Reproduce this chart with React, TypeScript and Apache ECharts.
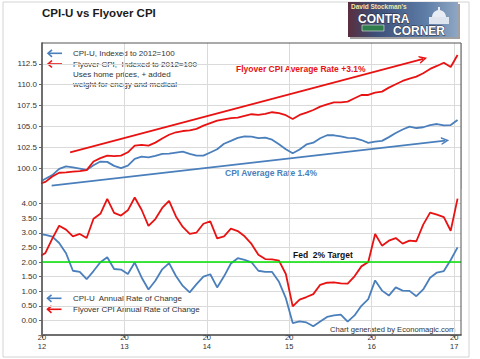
import React, { useEffect, useRef } from "react";
import * as echarts from "echarts";

const months = [
  "2011-12",
  "2012-01","2012-02","2012-03","2012-04","2012-05","2012-06","2012-07","2012-08","2012-09","2012-10","2012-11","2012-12",
  "2013-01","2013-02","2013-03","2013-04","2013-05","2013-06","2013-07","2013-08","2013-09","2013-10","2013-11","2013-12",
  "2014-01","2014-02","2014-03","2014-04","2014-05","2014-06","2014-07","2014-08","2014-09","2014-10","2014-11","2014-12",
  "2015-01","2015-02","2015-03","2015-04","2015-05","2015-06","2015-07","2015-08","2015-09","2015-10","2015-11","2015-12",
  "2016-01","2016-02","2016-03","2016-04","2016-05","2016-06","2016-07","2016-08","2016-09","2016-10","2016-11","2016-12",
  "2017-01",
];

const cpiIndex = [
  98.29,
  98.72, 99.16, 99.91, 100.21, 100.10, 99.95, 99.79, 100.34, 100.79, 100.75, 100.27, 100.00,
  100.30, 101.12, 101.38, 101.28, 101.46, 101.70, 101.74, 101.87, 101.98, 101.72, 101.51, 101.50,
  101.88, 102.26, 102.92, 103.26, 103.62, 103.81, 103.77, 103.60, 103.67, 103.41, 102.86, 102.27,
  101.79, 102.23, 102.84, 103.05, 103.58, 103.94, 103.94, 103.80, 103.64, 103.59, 103.37, 103.02,
  103.19, 103.27, 103.72, 104.21, 104.63, 104.98, 104.81, 104.90, 105.15, 105.29, 105.12, 105.16,
  105.77,
];

const flyoverIndex = [
  98.1,
  98.35, 99.0, 99.45, 99.5, 99.58, 99.65, 99.76, 100.8, 101.2, 101.5, 101.43, 101.5,
  101.9, 102.7, 102.79, 102.7, 103.06, 103.55, 104.0, 104.3, 104.45, 104.52, 104.7, 105.1,
  105.4, 105.7, 105.85, 106.0, 106.05, 106.26, 106.46, 106.38, 106.5, 106.7, 106.6, 106.35,
  105.9, 106.38, 106.65, 106.97, 107.37, 107.65, 107.89, 107.89, 107.97, 108.37, 108.77, 108.77,
  109.05, 109.17, 109.65, 110.05, 110.45, 110.73, 110.97, 111.37, 111.89, 112.25, 112.64, 112.13,
  113.57,
];

const cpiRate = [
  2.96,
  2.93, 2.87, 2.65, 2.30, 1.70, 1.66, 1.41, 1.69, 1.99, 2.16, 1.76, 1.74,
  1.59, 1.98, 1.47, 1.06, 1.36, 1.75, 1.96, 1.52, 1.18, 0.96, 1.24, 1.50,
  1.58, 1.13, 1.51, 1.95, 2.13, 2.07, 1.99, 1.70, 1.66, 1.66, 1.32, 0.76,
  -0.09, -0.03, -0.07, -0.20, -0.04, 0.12, 0.17, 0.20, -0.04, 0.17, 0.50, 0.73,
  1.37, 1.02, 0.85, 1.13, 1.02, 1.01, 0.83, 1.06, 1.46, 1.64, 1.69, 2.07,
  2.50,
];

const flyoverRate = [
  2.17,
  2.31, 2.8, 3.24, 3.11, 2.88, 2.96, 2.82, 3.48, 3.65, 4.16, 3.68, 3.59,
  3.77, 4.21, 3.79, 3.24, 3.47, 3.85, 4.09, 3.56, 3.20, 2.96, 3.01, 3.31,
  3.39, 2.81, 2.88, 3.14, 3.06, 2.88, 2.62, 2.25, 2.10, 2.09, 2.05, 1.59,
  0.48, 0.71, 0.80, 0.90, 1.22, 1.29, 1.30, 1.27, 1.26, 1.51, 1.85, 2.00,
  2.96, 2.56, 2.73, 2.82, 2.63, 2.73, 2.71, 3.28, 3.69, 3.62, 3.54, 3.07,
  4.17,
];

const yearTicks = [0, 12, 24, 36, 48, 60];
const yearLabels = ["20\n12", "20\n13", "20\n14", "20\n15", "20\n16", "20\n17"];
const fedTarget = 2;
const flyoverTrend = [[4.1, 101.9], [55.5, 113.1]];
const cpiTrend = [[1.4, 97.9], [58.7, 103.3]];

const BLUE = "#4a7fbc";
const RED = "#e81212";
const FONT = '"Liberation Sans", Arial, sans-serif';
const CHEVRON = "path://M0,10 L5,0 L10,10 L8,10 L5,4 L2,10 Z";

function monthPos(label: string) {
  const [y, m] = label.split("-").map(Number);
  return (y - 2012) * 12 + (m - 1) + 0.5;
}

function pts(values: number[]) {
  return months.map((m, i) => [monthPos(m), values[i]]);
}

function legendArrow(x: number, y: number, color: string) {
  return {
    type: "group",
    silent: true,
    children: [
      { type: "line", shape: { x1: x, y1: y, x2: x + 14, y2: y }, style: { stroke: color, lineWidth: 1.6 } },
      { type: "polyline", shape: { points: [[x + 4, y - 3.5], [x, y], [x + 4, y + 3.5]] }, style: { stroke: color, lineWidth: 1.6, fill: null } },
    ],
  };
}

function txt(x: number, y: number, text: string, size: number, color: string, bold = false, align = "left", extra: any = {}) {
  return {
    type: "text",
    x,
    y,
    silent: true,
    style: {
      text,
      fill: color,
      fontSize: size,
      fontWeight: bold ? "bold" : "normal",
      fontFamily: FONT,
      align,
      verticalAlign: "middle",
      textAlign: align,
      textVerticalAlign: "middle",
      ...extra,
    },
  };
}

export default function App() {
  const ref = useRef<HTMLDivElement>(null);
  useEffect(() => {
    if (!ref.current) return;
    const chart = echarts.init(ref.current, null, { renderer: "svg" });
    const gridLine = { show: true, lineStyle: { color: "#dadada", width: 1 } };
    const option: any = {
      animation: false,
      backgroundColor: "#ffffff",
      grid: [
        { left: 42, top: 43, width: 419, height: 146 },
        { left: 42, top: 189, width: 419, height: 146 },
      ],
      xAxis: [
        {
          gridIndex: 0, type: "value", min: 0, max: 61, interval: 12,
          axisLine: { show: false }, axisTick: { show: false }, axisLabel: { show: false },
          splitLine: gridLine,
        },
        {
          gridIndex: 1, type: "value", min: 0, max: 61, interval: 12,
          axisLine: { show: true, onZero: false, lineStyle: { color: "#8a8a8a", width: 2 } },
          axisTick: { show: true, length: 3, customValues: yearTicks, lineStyle: { color: "#666" } },
          axisLabel: {
            customValues: yearTicks,
            formatter: (v: number) => {
              const i = yearTicks.indexOf(Math.round(v));
              return i >= 0 ? yearLabels[i] : "";
            },
            fontSize: 7.5, lineHeight: 9, color: "#333", margin: -2, fontFamily: FONT,
          },
          splitLine: gridLine,
        },
      ],
      yAxis: [
        {
          gridIndex: 0, type: "value", min: 97.5, max: 115, interval: 2.5,
          axisLine: { show: true, lineStyle: { color: "#8a8a8a", width: 2 } },
          axisTick: { show: true, length: 3, lineStyle: { color: "#666" } },
          axisLabel: {
            showMinLabel: false, showMaxLabel: false,
            formatter: (v: number) => v.toFixed(1),
            fontSize: 8, color: "#333", margin: 5, fontFamily: FONT,
          },
          splitLine: { ...gridLine, showMinLine: false, showMaxLine: false },
        },
        {
          gridIndex: 1, type: "value", min: -0.5, max: 4.5, interval: 0.5,
          axisLine: { show: true, lineStyle: { color: "#8a8a8a", width: 2 } },
          axisTick: { show: true, length: 3, lineStyle: { color: "#666" } },
          axisLabel: {
            showMinLabel: false, showMaxLabel: false,
            formatter: (v: number) => v.toFixed(2),
            fontSize: 8, color: "#333", margin: 5, fontFamily: FONT,
          },
          splitLine: { ...gridLine, showMinLine: false, showMaxLine: false },
        },
      ],
      series: [
        {
          type: "line", xAxisIndex: 0, yAxisIndex: 0, data: pts(cpiIndex),
          showSymbol: false, lineStyle: { color: BLUE, width: 1.8 }, itemStyle: { color: BLUE }, z: 3,
          markLine: {
            silent: true, symbol: ["none", CHEVRON], symbolSize: [8, 8],
            label: { show: false }, lineStyle: { color: BLUE, width: 1.8, type: "solid" },
            data: [[{ coord: cpiTrend[0] }, { coord: cpiTrend[1] }]],
          },
        },
        {
          type: "line", xAxisIndex: 0, yAxisIndex: 0, data: pts(flyoverIndex),
          showSymbol: false, lineStyle: { color: RED, width: 1.8 }, itemStyle: { color: RED }, z: 3,
          markLine: {
            silent: true, symbol: ["none", CHEVRON], symbolSize: [8, 8],
            label: { show: false }, lineStyle: { color: RED, width: 1.8, type: "solid" },
            data: [[{ coord: flyoverTrend[0] }, { coord: flyoverTrend[1] }]],
          },
        },
        {
          type: "line", xAxisIndex: 1, yAxisIndex: 1, data: pts(cpiRate),
          showSymbol: false, lineStyle: { color: BLUE, width: 1.8 }, itemStyle: { color: BLUE }, z: 3,
        },
        {
          type: "line", xAxisIndex: 1, yAxisIndex: 1, data: pts(flyoverRate),
          showSymbol: false, lineStyle: { color: RED, width: 1.8 }, itemStyle: { color: RED }, z: 3,
          markLine: {
            silent: true, symbol: ["none", "none"], label: { show: false },
            lineStyle: { color: "#00e000", width: 1.6, type: "solid" },
            data: [{ yAxis: fedTarget }],
          },
        },
      ],
      graphic: [
        { type: "rect", silent: true, shape: { x: 3, y: 2, width: 466, height: 355 }, style: { fill: null, stroke: "#d4d4d4", lineWidth: 1 }, z: -1 },
        { type: "rect", silent: true, shape: { x: 42, y: 43, width: 419, height: 292 }, style: { fill: null, stroke: "#555", lineWidth: 1 }, z: 10 },
        txt(42, 13, "CPI-U vs Flyover CPI", 11.5, "#1a1a1a", true),
        // logo
        {
          type: "group", silent: true, children: [
            { type: "rect", shape: { x: 350, y: 4, width: 110, height: 35 }, style: { fill: "#a0a0a0" } },
            {
              type: "rect", shape: { x: 348, y: 2, width: 110, height: 35 },
              style: {
                fill: new echarts.graphic.LinearGradient(0, 0, 1, 0, [
                  { offset: 0, color: "#5a2e3e" },
                  { offset: 0.25, color: "#3c4f78" },
                  { offset: 0.7, color: "#5d7ca6" },
                  { offset: 1, color: "#8fa7c4" },
                ]),
              },
            },
            { type: "rect", shape: { x: 362, y: 25, width: 22, height: 6 }, style: { fill: "#2e7d4a", stroke: "#e8e8e8", lineWidth: 0.6 } },
            { type: "circle", shape: { cx: 439, cy: 17, r: 7 }, style: { fill: "#e8edf3" } },
            { type: "rect", shape: { x: 429, y: 17, width: 20, height: 7 }, style: { fill: "#dfe5ee" } },
            { type: "rect", shape: { x: 438, y: 7, width: 2, height: 4 }, style: { fill: "#e8edf3" } },
            txt(351, 6.5, "David Stockman's", 6.5, "#f2e7a8", true),
            txt(358, 18.5, "CONTRA", 12, "#ffffff", true, "left", { stroke: "#2a2a3a", lineWidth: 0.8 }),
            txt(393, 31, "CORNER", 12, "#ffffff", true, "left", { stroke: "#2a2a3a", lineWidth: 0.8 }),
          ],
        },
        // top legend
        legendArrow(48, 53.3, BLUE),
        legendArrow(48, 64, RED),
        txt(73, 53.3, "CPI-U, Indexed to 2012=100", 8, "#333"),
        txt(73, 64, "Flyover CPI,  Indexed to 2012=100", 8, "#333"),
        txt(73, 74.3, "Uses home prices, + added", 8, "#333"),
        txt(73, 84, "weight for enegy and medical", 8, "#333"),
        // annotations
        txt(236, 69, "Flyover CPI Average Rate +3.1%", 8.5, RED, true),
        txt(225, 173, "CPI Average Rate 1.4%", 8.5, BLUE, true),
        txt(293, 255, "Fed  2% Target", 8.5, "#111", true),
        txt(330, 329.3, "Chart generated by Economagic.com", 7.6, "#333"),
        // bottom legend
        legendArrow(47.5, 298.3, BLUE),
        legendArrow(47.5, 309.3, RED),
        txt(73, 298.3, "CPI-U  Annual Rate of Change", 8, "#333"),
        txt(73, 309.3, "Flyover CPI Annual Rate of Change", 8, "#333"),
      ],
    };
    chart.setOption(option);
    return () => chart.dispose();
  }, []);
  return (
    <div
      ref={ref}
      style={{ position: "absolute", left: 0, top: 0, width: 480, height: 359, background: "#fff" }}
    />
  );
}
